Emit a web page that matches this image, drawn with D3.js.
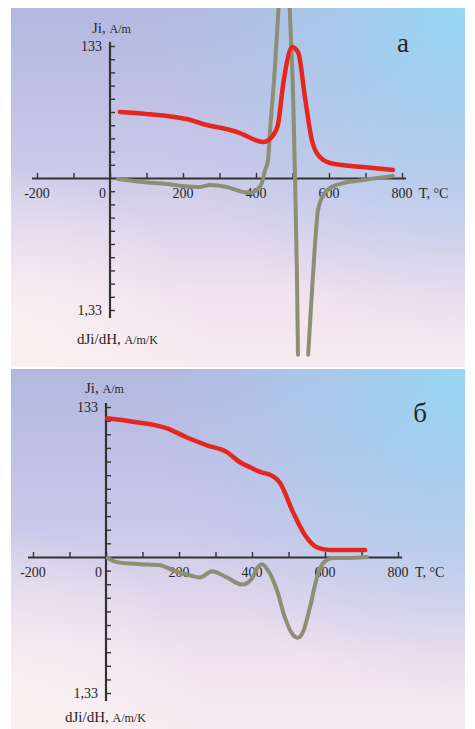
<!DOCTYPE html>
<html>
<head>
<meta charset="utf-8">
<script src="https://cdn.jsdelivr.net/npm/d3@7"></script>
<style>
  html, body { margin: 0; padding: 0; background: #fff; }
  svg { display: block; }
  text { font-family: "Liberation Serif", "DejaVu Serif", serif; fill: #262626; }
</style>
</head>
<body>
<svg width="475" height="729"></svg>
<script>
// Data: [T (°C), value].
// Panel а – Ji (A/m) and dJi/dH (A/m/K); null breaks the line at the pole.
const jiA = [
  [27, 66.5], [100, 64.5], [156, 62.5], [210, 59.4], [265, 53.4], [329, 48.4],
  [356, 45.3], [420, 36.3], [443, 41.3], [460, 53.4], [475, 95.7], [499, 132],
  [516, 126], [534, 81.6], [553, 38.3], [570, 23.2], [603, 15.1], [693, 11], [775, 8]
];
const dJiA = [
  [22, 0.01], [90, 0.04], [156, 0.06], [200, 0.08], [247, 0.09], [274, 0.07],
  [320, 0.09], [364, 0.14], [384, 0.15], [402, 0.12], [416, 0.05], [425, -0.08],
  [433, -0.18], [438, -0.45], [452, -1.12], [461, -1.66], [470, -2.3], [487, -2.3],
  [493, -1.66], [502, -0.79], [507, 0.02], [512, 0.93], [515, 1.78], [528, null],
  [543, 1.78], [553, 1.16], [562, 0.65], [570, 0.32], [589, 0.15], [621, 0.07],
  [694, 0.02], [775, -0.02]
];
// Panel б
const jiB = [
  [3, 123], [74, 120], [167, 114], [222, 106], [277, 99], [331, 93], [367, 84],
  [395, 79.5], [430, 74.5], [449, 73], [477, 65.6], [512, 40], [545, 19.5],
  [581, 8], [614, 6.2], [710, 6.2]
];
const dJiB = [
  [5, 0.01], [30, 0.05], [93, 0.07], [148, 0.08], [184, 0.13], [230, 0.18],
  [258, 0.2], [290, 0.14], [331, 0.2], [373, 0.27], [400, 0.21], [414, 0.11],
  [427, 0.07], [444, 0.13], [468, 0.32], [490, 0.59], [512, 0.76], [526, 0.79],
  [540, 0.73], [559, 0.49], [578, 0.2], [595, 0.06], [622, 0.01], [660, 0.01], [715, 0]
];

// Axis settings
const xTicks = d3.range(-200, 801, 100);
const xLabels = [-200, 0, 200, 400, 600, 800];
const jiMax = 133;
const dJiMax = 1.33;

const svg = d3.select('svg');
const defs = svg.append('defs');

function drawPanel(p) {
  const g = svg.append('g');

  // Background gradients.
  const lin = defs.append('linearGradient').attr('id', 'bg' + p.id)
    .attr('x1', 0).attr('y1', 0).attr('x2', 0).attr('y2', 1);
  lin.append('stop').attr('offset', '0%').attr('stop-color', '#b2b8e0');
  lin.append('stop').attr('offset', '45%').attr('stop-color', '#cbc9e9');
  lin.append('stop').attr('offset', '80%').attr('stop-color', '#f1e2ee');
  lin.append('stop').attr('offset', '100%').attr('stop-color', '#f7eaf0');
  const rad = defs.append('radialGradient').attr('id', 'cy' + p.id)
    .attr('gradientUnits', 'userSpaceOnUse')
    .attr('cx', p.right).attr('cy', p.top).attr('r', 330);
  rad.append('stop').attr('offset', '0%').attr('stop-color', '#95d8f2').attr('stop-opacity', 1);
  rad.append('stop').attr('offset', '60%').attr('stop-color', '#a6cdee').attr('stop-opacity', 0.45);
  rad.append('stop').attr('offset', '100%').attr('stop-color', '#b8c0e6').attr('stop-opacity', 0);
  const rad2 = defs.append('radialGradient').attr('id', 'wh' + p.id)
    .attr('gradientUnits', 'userSpaceOnUse')
    .attr('cx', p.left).attr('cy', p.bottom).attr('r', 200);
  rad2.append('stop').attr('offset', '0%').attr('stop-color', '#faf3f2').attr('stop-opacity', 0.9);
  rad2.append('stop').attr('offset', '100%').attr('stop-color', '#faf3f2').attr('stop-opacity', 0);

  const w = p.right - p.left, h = p.bottom - p.top;
  ['bg', 'cy', 'wh'].forEach(k => {
    g.append('rect').attr('x', p.left).attr('y', p.top).attr('width', w).attr('height', h)
      .attr('fill', `url(#${k}${p.id})`);
  });

  defs.append('clipPath').attr('id', 'clip' + p.id)
    .append('rect').attr('x', p.left).attr('y', p.top).attr('width', w).attr('height', h);

  // Scales.
  const x = d3.scaleLinear().domain([-215, 810])
    .range([p.x0 - 215 * 0.365, p.x0 + 810 * 0.365]);
  const yJ = d3.scaleLinear().domain([0, jiMax]).range([p.y0, p.yTop]);
  const yD = d3.scaleLinear().domain([0, dJiMax]).range([p.y0, p.yBot]);

  // X axis.
  const xAxis = d3.axisBottom(x).tickValues(xTicks)
    .tickSizeInner(-5).tickSizeOuter(0).tickFormat('');
  const gx = g.append('g').attr('transform', `translate(0,${p.y0})`).call(xAxis);
  gx.select('.domain').attr('stroke', '#333').attr('stroke-width', 2.2);
  gx.selectAll('.tick line').attr('stroke', '#333').attr('stroke-width', 1.4);

  g.selectAll('.xl').data(xLabels).join('text')
    .attr('x', d => d === 0 ? x(0) - 4 : x(d))
    .attr('y', p.y0 + 15)
    .attr('dy', '0.35em')
    .attr('text-anchor', d => d === 0 ? 'end' : 'middle')
    .attr('font-size', 14)
    .text(d => d);
  g.append('text').attr('x', x(800) + 17).attr('y', p.y0 + 15).attr('dy', '0.35em')
    .attr('font-size', 14).text('T, °C');

  // Y axis (two scales sharing one line).
  g.append('line').attr('x1', x(0)).attr('x2', x(0))
    .attr('y1', p.yTop - 4).attr('y2', p.yBot + 8)
    .attr('stroke', '#333').attr('stroke-width', 2.2);
  const upAxis = d3.axisRight(yJ)
    .tickValues(d3.range(1, p.nUp + 1).map(i => i * jiMax / p.nUp))
    .tickSize(5).tickFormat('');
  const dnAxis = d3.axisRight(yD)
    .tickValues(d3.range(1, p.nDn + 1).map(i => i * dJiMax / p.nDn))
    .tickSize(5).tickFormat('');
  [upAxis, dnAxis].forEach(ax => {
    const gy = g.append('g').attr('transform', `translate(${x(0)},0)`).call(ax);
    gy.select('.domain').remove();
    gy.selectAll('.tick line').attr('stroke', '#333').attr('stroke-width', 1.4);
  });

  g.append('text').attr('x', x(0) - 8).attr('y', yJ(jiMax)).attr('dy', '0.35em')
    .attr('text-anchor', 'end').attr('font-size', 14).text('133');
  g.append('text').attr('x', x(0) - 8).attr('y', yD(dJiMax)).attr('dy', '0.35em')
    .attr('text-anchor', 'end').attr('font-size', 14).text('1,33');

  const t1 = g.append('text').attr('x', p.jiX).attr('y', p.jiY).attr('dy', '0.35em');
  t1.append('tspan').attr('font-size', 15).text('Ji, ');
  t1.append('tspan').attr('font-size', 12).text('A/m');
  const t2 = g.append('text').attr('x', p.dX).attr('y', p.dY).attr('dy', '0.35em');
  t2.append('tspan').attr('font-size', 15).text('dJi/dH, ');
  t2.append('tspan').attr('font-size', 12).text('A/m/K');

  g.append('text').attr('x', p.labX).attr('y', p.labY).attr('dy', '0.35em')
    .attr('text-anchor', 'middle').attr('font-size', 27).text(p.label);

  // Curves.
  const plot = g.append('g').attr('clip-path', `url(#clip${p.id})`);
  const lineD = d3.line().defined(d => d[1] !== null)
    .x(d => x(d[0])).y(d => yD(d[1])).curve(d3.curveMonotoneX);
  const lineJ = d3.line()
    .x(d => x(d[0])).y(d => yJ(d[1])).curve(d3.curveMonotoneX);

  plot.append('path').datum(p.dji).attr('d', lineD)
    .attr('fill', 'none').attr('stroke', '#8c8f74').attr('stroke-width', 4)
    .attr('stroke-linecap', 'round').attr('stroke-linejoin', 'round');
  plot.append('path').datum(p.ji).attr('d', lineJ)
    .attr('fill', 'none').attr('stroke', '#e4261e').attr('stroke-width', 4.5)
    .attr('stroke-linecap', 'round').attr('stroke-linejoin', 'round');
}

drawPanel({
  id: 'a', label: 'а', ji: jiA, dji: dJiA,
  left: 11, right: 465, top: 8, bottom: 367,
  x0: 110, y0: 178, yTop: 46, yBot: 310, nUp: 10, nDn: 10,
  jiX: 92, jiY: 27, dX: 77, dY: 338, labX: 403, labY: 43
});
drawPanel({
  id: 'b', label: 'б', ji: jiB, dji: dJiB,
  left: 11, right: 465, top: 369, bottom: 729,
  x0: 106, y0: 557, yTop: 407, yBot: 693, nUp: 11, nDn: 10,
  jiX: 85, jiY: 387, dX: 65, dY: 716, labX: 420, labY: 413
});
</script>
</body>
</html>
